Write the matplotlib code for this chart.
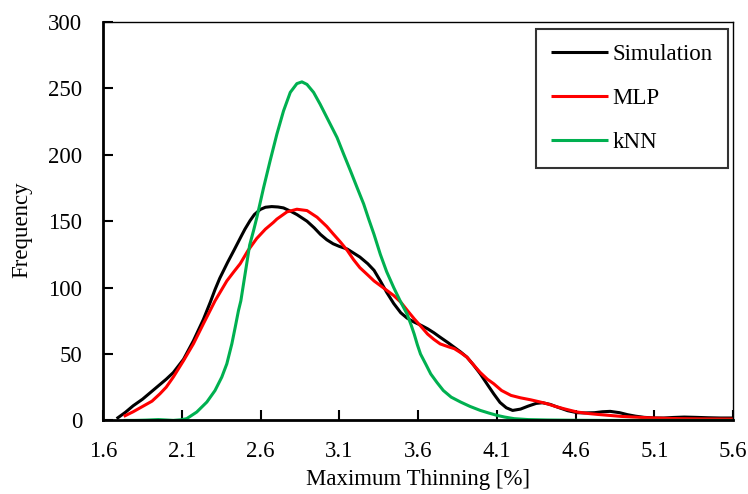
import matplotlib
matplotlib.use("Agg")
import matplotlib.pyplot as plt

# ---- data ----
sim_x = [1.685, 1.74, 1.79, 1.85, 1.90, 1.96, 2.00, 2.045, 2.11, 2.173, 2.236, 2.28, 2.31, 2.34,
         2.39, 2.43, 2.48, 2.50, 2.533, 2.56, 2.597, 2.63, 2.67, 2.71, 2.745, 2.79, 2.83, 2.894,
         2.94, 2.98, 3.02, 3.06, 3.10, 3.15, 3.19, 3.23, 3.28, 3.32, 3.36, 3.40, 3.445, 3.49,
         3.53, 3.575, 3.62, 3.66, 3.70, 3.74, 3.79, 3.83, 3.87, 3.91, 3.95, 3.995, 4.04, 4.08,
         4.12, 4.16, 4.20, 4.25, 4.30, 4.35, 4.39, 4.44, 4.485, 4.55, 4.61, 4.66, 4.72, 4.77,
         4.82, 4.88, 4.93, 4.98, 5.035, 5.10, 5.16, 5.22, 5.29, 5.36, 5.44, 5.52, 5.6]
sim_y = [1.3, 6, 11, 16, 21, 27, 31, 36, 46, 60, 76, 89, 98.5, 107,
         119, 128, 139.5, 144, 150.5, 155, 158.8, 160.5, 161, 160.7, 160, 157.5, 155, 150,
         145, 140, 136, 133, 131, 129, 126, 123, 118, 113, 105, 96.5, 88, 81,
         77, 74, 71.5, 69, 66, 62.6, 58.5, 55, 51.5, 47.6, 42, 35, 27, 20,
         13.5, 9.5, 7.5, 8.5, 10.8, 12.8, 13.3, 12, 10, 7.3, 5.8, 5.6, 5.8, 6.5,
         6.8, 5.8, 4.3, 3.2, 2.3, 1.8, 1.8, 2.2, 2.5, 2.3, 2, 1.8, 1.8]

mlp_x = [1.73, 1.79, 1.85, 1.91, 1.96, 2.00, 2.045, 2.11, 2.173, 2.236, 2.31, 2.385, 2.43,
         2.47, 2.52, 2.575, 2.63, 2.68, 2.703, 2.767, 2.83, 2.894, 2.958, 3.02, 3.06, 3.105,
         3.15, 3.19, 3.23, 3.28, 3.32, 3.36, 3.40, 3.445, 3.49, 3.53, 3.575, 3.62, 3.66, 3.70,
         3.74, 3.79, 3.83, 3.87, 3.91, 3.95, 3.995, 4.04, 4.08, 4.13, 4.19, 4.25, 4.315, 4.37,
         4.42, 4.47, 4.525, 4.61, 4.68, 4.74, 4.82, 4.89, 4.97, 5.06, 5.16, 5.27, 5.43, 5.6]
mlp_y = [3, 6.5, 10.5, 14.5, 20, 25, 32.6, 45, 57.7, 72.7, 90, 105, 112,
         118, 128, 137, 144, 149, 151.6, 157, 159, 158, 153, 146, 140.5, 134.5,
         128, 121, 115, 109.5, 105, 101.5, 98, 94, 89, 83, 76.5, 70.5, 65, 61,
         57.6, 55.5, 54, 51, 47.6, 42, 36, 31, 27.6, 22.5, 18.8, 17, 15.5, 14,
         12.5, 10.6, 8.8, 6.3, 5.2, 4.5, 3.7, 3, 2.5, 2, 1.6, 1.3, 1.1, 1]

knn_x = [1.73, 1.80, 1.87, 1.95, 2.00, 2.045, 2.09, 2.13, 2.194, 2.258, 2.31, 2.353, 2.385,
         2.417, 2.438, 2.459, 2.474, 2.49, 2.51, 2.53, 2.555, 2.576, 2.618, 2.66, 2.703, 2.745,
         2.788, 2.83, 2.862, 2.894, 2.936, 2.978, 3.031, 3.085, 3.127, 3.17, 3.212, 3.254,
         3.286, 3.32, 3.36, 3.40, 3.445, 3.49, 3.53, 3.555, 3.575, 3.595, 3.615, 3.65, 3.68,
         3.72, 3.76, 3.81, 3.87, 3.93, 3.995, 4.05, 4.10, 4.15, 4.21, 4.30, 4.42, 4.6, 4.8,
         5.2, 5.6]
knn_y = [0, 0, 0.2, 0.6, 0.3, 0, 0.4, 1.3, 6.3, 13.8, 22.5, 32.6, 42.6,
         57.7, 70, 82.7, 90, 102, 117, 132, 143, 153, 175, 195.5, 215.6, 233,
         247, 253.6, 254.9, 253, 247, 238, 225.6, 213, 200.5, 188, 175.4, 163,
         151.6, 140, 125, 112, 100, 89, 80, 72, 65, 57, 50, 42, 35,
         28.5, 22.5, 17.5, 13.8, 10.5, 7.5, 5.5, 3.8, 2.5, 1.3, 0.6, 0.3, 0.1, 0,
         0, 0]

x_ticks = [1.6, 2.1, 2.6, 3.1, 3.6, 4.1, 4.6, 5.1, 5.6]
x_tick_labels = ["1.6", "2.1", "2.6", "3.1", "3.6", "4.1", "4.6", "5.1", "5.6"]
y_ticks = [0, 50, 100, 150, 200, 250, 300]

plt.rcParams['font.family'] = ['Liberation Serif', 'DejaVu Serif']
FS = 16.5

fig = plt.figure(figsize=(7.48, 4.94), dpi=100)
ax = fig.add_axes([0.138, 0.149, 0.842, 0.8065])

style = dict(lw=2.2, solid_capstyle='butt', solid_joinstyle='round')
ax.plot(sim_x, sim_y, color='black', label='Simulation', **style)
ax.plot(mlp_x, mlp_y, color='#FF0000', label='MLP', **style)
ax.plot(knn_x, knn_y, color='#00B050', label='kNN', **style)

ax.set_xlim(1.6, 5.6)
ax.set_ylim(0, 300)
ax.set_xticks(x_ticks)
ax.set_xticklabels(x_tick_labels)
ax.set_yticks(y_ticks)
ax.tick_params(axis='both', direction='in', length=7, width=1.5, labelsize=FS, pad=15,
               colors='black')

for s in ['left', 'bottom']:
    ax.spines[s].set_linewidth(2.0)
for s in ['top', 'right']:
    ax.spines[s].set_linewidth(1.0)

ax.set_xlabel('Maximum Thinning [%]', fontsize=FS)
ax.set_ylabel('Frequency', fontsize=FS)
ax.xaxis.set_label_coords(0.5, -0.121)
ax.yaxis.set_label_coords(-0.112, 0.478)

leg = ax.legend(loc='upper right', bbox_to_anchor=(0.9915, 0.9824), borderaxespad=0,
                fontsize=FS, frameon=True, fancybox=False, shadow=False,
                handlelength=2.5, handletextpad=0.2, labelspacing=1.0, borderpad=0.65)
leg.get_frame().set_edgecolor('black')
leg.get_frame().set_linewidth(1.5)

fig.savefig('out.png', dpi=100)
